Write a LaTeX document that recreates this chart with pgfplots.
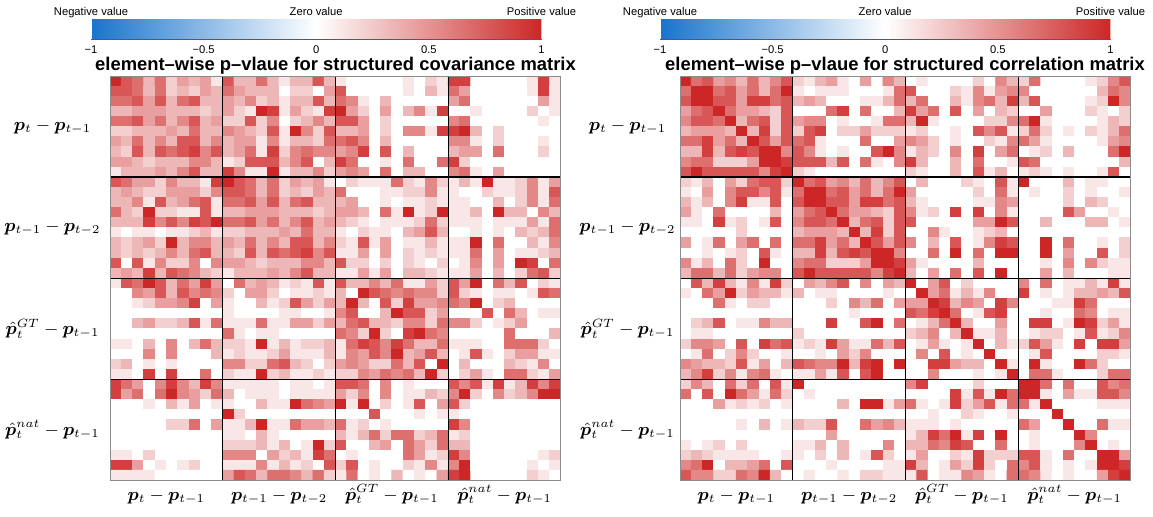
\documentclass[border=0pt]{standalone}
\usepackage{amsmath,bm}
\usepackage[no-math]{fontspec}
\setmainfont{Liberation Sans}
\usepackage{pgfplots}
\pgfplotsset{compat=1.18}

\pgfplotsset{
  heat/.style={
    scale only axis, width=225.5pt, height=202.25pt, anchor=south west,
    xmin=-0.5,xmax=39.5,ymin=-0.5,ymax=39.5, y dir=reverse, enlargelimits=false,
    axis on top, axis line style={draw=black!45, line width=0.5pt},
    major tick length=0pt,
    xtick={4.5,14.5,24.5,34.5}, ytick={4.5,14.5,24.5,34.5},
    xticklabels={{$\bm{p}_t-\bm{p}_{t-1}$},{$\bm{p}_{t-1}-\bm{p}_{t-2}$},{$\hat{\bm{p}}_t^{GT}-\bm{p}_{t-1}$},{$\hat{\bm{p}}_t^{nat}-\bm{p}_{t-1}$}},
    yticklabels={{$\bm{p}_t-\bm{p}_{t-1}$},{$\bm{p}_{t-1}-\bm{p}_{t-2}$},{$\hat{\bm{p}}_t^{GT}-\bm{p}_{t-1}$},{$\hat{\bm{p}}_t^{nat}-\bm{p}_{t-1}$}},
    xticklabel style={anchor=base, yshift=-9.9pt, font=\fontsize{9}{11}\selectfont},
    yticklabel style={anchor=center, font=\fontsize{9}{11}\selectfont},
    colormap={rb}{rgb255=(24,116,205) rgb255=(255,255,255) rgb255=(205,38,38)},
    point meta min=-1, point meta max=1,
    colorbar horizontal,
    colorbar style={
      at={(parent axis.north west)}, anchor=south west, yshift=27pt,
      scale only axis, width=225.25pt, height=10pt, y dir=normal,
      xtick={-1,-0.5,0,0.5,1}, xticklabels={{−1},{−0.5},{0},{0.5},{1}},
      ytick=\empty,
      major tick length=0pt, axis line style={draw=none},
      xticklabel style={anchor=base, yshift=-7pt, font=\fontsize{5.6}{6}\selectfont},
    },
  },
  cells/.style={matrix plot, shader=flat corner, mesh/cols=40, point meta=explicit},
}

\begin{document}
\begin{tikzpicture}
\path[use as bounding box] (0,0) rectangle (576.5pt,258pt);

\begin{axis}[heat, at={(55pt,17.75pt)}, yticklabel style={xshift=-28.75pt}, colorbar style={xshift=-9.5pt}]
\addplot[cells] table[header=false, row sep=\\, x expr={int(mod(\coordindex,40))}, y expr={int(floor((\coordindex+0.5)/40))}, meta expr={\thisrowno{0}/9}] {
9\\7\\6\\3\\6\\2\\4\\3\\4\\1\\ 7\\3\\3\\6\\3\\1\\3\\3\\7\\3\\ 1\\0\\0\\0\\0\\0\\1\\0\\2\\1\\ 8\\8\\0\\0\\0\\0\\0\\1\\8\\1\\
7\\7\\6\\3\\6\\2\\3\\2\\4\\3\\ 6\\4\\3\\3\\3\\0\\2\\2\\0\\4\\ 7\\0\\0\\0\\0\\0\\1\\0\\3\\1\\ 6\\4\\0\\0\\0\\0\\0\\1\\8\\1\\
6\\6\\7\\4\\7\\3\\6\\7\\3\\3\\ 4\\3\\5\\2\\3\\1\\3\\3\\7\\3\\ 6\\5\\1\\0\\3\\0\\0\\0\\0\\0\\ 4\\6\\0\\0\\0\\0\\0\\0\\4\\1\\
3\\3\\4\\4\\4\\3\\3\\3\\2\\3\\ 4\\2\\1\\9\\8\\1\\4\\2\\1\\8\\ 9\\4\\2\\0\\4\\0\\3\\5\\1\\8\\ 0\\0\\1\\0\\0\\0\\0\\2\\0\\1\\
6\\6\\7\\4\\6\\3\\5\\7\\3\\4\\ 2\\2\\7\\2\\5\\0\\2\\3\\5\\3\\ 7\\7\\4\\0\\2\\0\\0\\0\\0\\0\\ 5\\6\\0\\0\\0\\0\\0\\0\\1\\0\\
2\\2\\3\\3\\3\\4\\3\\6\\3\\3\\ 5\\4\\3\\2\\7\\1\\9\\5\\2\\7\\ 3\\3\\4\\0\\2\\0\\5\\5\\1\\8\\ 8\\9\\3\\0\\2\\0\\0\\0\\0\\0\\
4\\3\\6\\3\\5\\3\\7\\7\\3\\5\\ 3\\4\\4\\1\\5\\1\\3\\3\\2\\6\\ 6\\7\\5\\0\\3\\0\\0\\0\\0\\0\\ 5\\5\\1\\0\\2\\0\\0\\0\\1\\0\\
3\\2\\7\\3\\7\\6\\7\\8\\5\\7\\ 3\\4\\6\\1\\8\\2\\5\\6\\5\\5\\ 4\\5\\8\\0\\7\\0\\3\\0\\0\\0\\ 3\\4\\4\\0\\6\\0\\0\\0\\2\\0\\
4\\4\\3\\2\\3\\3\\3\\5\\5\\3\\ 1\\2\\7\\7\\7\\3\\5\\7\\0\\3\\ 8\\6\\0\\0\\1\\0\\6\\0\\0\\6\\ 8\\2\\0\\0\\0\\0\\0\\0\\0\\0\\
1\\3\\3\\3\\4\\3\\5\\7\\3\\3\\ 8\\5\\1\\1\\9\\1\\3\\3\\5\\2\\ 4\\5\\4\\0\\6\\0\\3\\3\\0\\0\\ 5\\6\\1\\0\\4\\0\\0\\0\\0\\0\\
7\\6\\4\\4\\2\\5\\3\\3\\1\\8\\ 9\\7\\6\\3\\6\\2\\4\\3\\4\\1\\ 0\\2\\1\\1\\1\\6\\2\\1\\5\\2\\ 1\\3\\1\\9\\1\\1\\2\\5\\1\\4\\
3\\4\\3\\2\\2\\4\\4\\4\\2\\5\\ 7\\7\\6\\3\\6\\2\\3\\2\\4\\3\\ 6\\0\\0\\0\\1\\1\\2\\2\\5\\1\\ 1\\0\\0\\2\\1\\1\\2\\5\\1\\7\\
3\\3\\5\\1\\7\\3\\4\\6\\7\\1\\ 6\\6\\7\\4\\7\\3\\6\\7\\3\\3\\ 3\\4\\0\\0\\1\\0\\1\\1\\2\\1\\ 1\\1\\0\\0\\3\\0\\2\\5\\1\\6\\
6\\3\\2\\9\\2\\2\\1\\1\\7\\1\\ 3\\3\\4\\4\\4\\3\\3\\3\\2\\3\\ 4\\4\\3\\0\\6\\1\\9\\1\\2\\9\\ 1\\1\\3\\0\\9\\3\\3\\0\\5\\3\\
3\\3\\3\\8\\5\\7\\5\\8\\7\\9\\ 6\\6\\7\\4\\6\\3\\5\\7\\3\\4\\ 3\\2\\1\\0\\1\\1\\1\\2\\6\\2\\ 1\\1\\1\\0\\1\\1\\1\\4\\1\\6\\
1\\0\\1\\1\\0\\1\\1\\2\\3\\1\\ 2\\2\\3\\3\\3\\4\\3\\6\\3\\3\\ 1\\0\\2\\1\\1\\0\\3\\4\\7\\3\\ 0\\0\\1\\0\\1\\0\\3\\2\\3\\6\\
3\\2\\3\\4\\2\\9\\3\\5\\5\\3\\ 4\\3\\6\\3\\5\\3\\7\\7\\3\\5\\ 2\\1\\7\\1\\4\\0\\1\\1\\3\\1\\ 1\\1\\9\\0\\6\\0\\0\\3\\1\\5\\
3\\2\\3\\2\\3\\5\\3\\6\\7\\3\\ 3\\2\\7\\3\\7\\6\\7\\8\\5\\7\\ 1\\1\\4\\0\\4\\0\\2\\1\\2\\1\\ 1\\1\\6\\0\\4\\0\\1\\1\\2\\3\\
7\\0\\7\\1\\5\\2\\2\\5\\0\\5\\ 4\\4\\3\\2\\3\\3\\3\\5\\5\\3\\ 7\\2\\2\\0\\2\\0\\2\\1\\0\\2\\ 0\\1\\5\\0\\4\\0\\9\\8\\0\\6\\
3\\4\\3\\8\\3\\7\\6\\5\\3\\2\\ 1\\3\\3\\3\\4\\3\\5\\7\\3\\3\\ 1\\1\\4\\1\\4\\0\\3\\3\\2\\1\\ 1\\1\\4\\0\\3\\0\\2\\6\\7\\2\\
1\\7\\6\\9\\7\\3\\6\\4\\8\\4\\ 0\\6\\3\\4\\3\\1\\2\\1\\7\\1\\ 7\\3\\3\\5\\3\\6\\1\\1\\4\\2\\ 7\\4\\9\\0\\6\\3\\7\\0\\2\\1\\
0\\0\\5\\4\\7\\3\\7\\5\\6\\5\\ 2\\0\\4\\4\\2\\0\\1\\1\\2\\1\\ 3\\0\\9\\7\\6\\5\\6\\5\\5\\2\\ 7\\2\\1\\0\\1\\1\\0\\1\\7\\6\\
0\\0\\1\\2\\4\\4\\5\\8\\0\\4\\ 1\\0\\0\\3\\1\\2\\7\\4\\2\\4\\ 3\\9\\3\\0\\7\\2\\8\\4\\4\\5\\ 6\\5\\9\\0\\2\\3\\0\\0\\0\\0\\
0\\0\\0\\0\\0\\0\\0\\0\\0\\0\\ 1\\0\\0\\0\\0\\1\\1\\0\\0\\1\\ 5\\7\\0\\0\\3\\9\\7\\7\\2\\4\\ 0\\0\\0\\7\\0\\6\\3\\0\\1\\1\\
0\\0\\3\\4\\2\\2\\3\\7\\1\\6\\ 1\\1\\1\\6\\1\\1\\4\\4\\2\\4\\ 3\\6\\7\\3\\3\\2\\5\\5\\2\\6\\ 5\\5\\2\\0\\1\\2\\4\\0\\0\\0\\
0\\0\\0\\0\\0\\0\\0\\0\\0\\0\\ 6\\1\\0\\1\\1\\0\\0\\0\\0\\0\\ 6\\5\\2\\9\\2\\0\\8\\9\\6\\5\\ 0\\0\\0\\0\\0\\6\\0\\0\\0\\3\\
1\\1\\0\\3\\0\\5\\0\\3\\6\\3\\ 2\\2\\1\\9\\1\\3\\1\\2\\2\\3\\ 1\\6\\8\\7\\5\\8\\6\\3\\3\\6\\ 1\\1\\1\\0\\0\\6\\6\\6\\2\\0\\
0\\0\\0\\5\\0\\5\\0\\0\\0\\3\\ 1\\2\\1\\1\\2\\4\\1\\1\\1\\3\\ 1\\5\\4\\7\\5\\9\\3\\4\\7\\3\\ 0\\1\\7\\1\\0\\2\\4\\4\\1\\1\\
2\\3\\0\\1\\0\\1\\0\\0\\0\\0\\ 5\\5\\2\\2\\6\\7\\3\\2\\0\\2\\ 4\\5\\4\\2\\2\\6\\3\\7\\0\\9\\ 0\\3\\0\\0\\0\\3\\2\\1\\5\\0\\
1\\1\\0\\8\\0\\8\\0\\0\\6\\0\\ 2\\1\\1\\9\\2\\3\\1\\1\\2\\1\\ 2\\2\\5\\4\\6\\5\\6\\3\\9\\2\\ 0\\2\\4\\1\\0\\6\\6\\2\\1\\4\\
8\\6\\4\\0\\5\\8\\5\\3\\8\\5\\ 1\\1\\1\\1\\1\\0\\1\\1\\0\\1\\ 7\\7\\6\\0\\5\\0\\1\\0\\0\\0\\ 7\\5\\7\\1\\8\\1\\3\\8\\5\\8\\
8\\4\\6\\0\\6\\9\\5\\4\\2\\6\\ 3\\0\\1\\1\\1\\0\\1\\1\\1\\1\\ 4\\2\\5\\0\\5\\0\\1\\1\\3\\2\\ 5\\9\\2\\0\\5\\2\\3\\5\\9\\9\\
0\\0\\0\\1\\0\\3\\1\\4\\0\\1\\ 1\\0\\0\\3\\1\\1\\9\\6\\5\\4\\ 9\\1\\9\\0\\2\\0\\1\\7\\0\\4\\ 7\\2\\0\\0\\0\\0\\0\\0\\0\\0\\
0\\0\\0\\0\\0\\0\\0\\0\\0\\0\\ 9\\2\\0\\0\\0\\0\\0\\0\\0\\0\\ 0\\0\\0\\7\\0\\0\\0\\1\\0\\1\\ 1\\0\\0\\0\\0\\0\\0\\0\\0\\0\\
0\\0\\0\\0\\0\\2\\2\\6\\0\\4\\ 1\\1\\3\\9\\1\\1\\6\\4\\4\\3\\ 6\\1\\2\\0\\1\\0\\0\\0\\0\\0\\ 8\\5\\0\\0\\0\\0\\0\\0\\0\\0\\
0\\0\\0\\0\\0\\0\\0\\0\\0\\0\\ 1\\1\\0\\3\\1\\0\\0\\0\\0\\0\\ 3\\1\\3\\6\\2\\6\\6\\2\\3\\6\\ 1\\2\\0\\0\\0\\0\\0\\0\\0\\0\\
0\\0\\0\\0\\0\\0\\0\\0\\0\\0\\ 2\\2\\2\\3\\1\\3\\0\\1\\9\\2\\ 7\\0\\0\\3\\4\\0\\6\\4\\2\\6\\ 3\\3\\0\\0\\0\\0\\0\\0\\0\\0\\
1\\1\\0\\2\\0\\0\\0\\0\\0\\0\\ 5\\5\\5\\0\\4\\2\\3\\1\\8\\6\\ 0\\1\\0\\0\\0\\0\\6\\4\\1\\2\\ 8\\5\\0\\0\\0\\0\\0\\0\\1\\2\\
8\\8\\4\\0\\1\\0\\1\\2\\0\\0\\ 1\\1\\1\\5\\1\\3\\1\\2\\0\\7\\ 2\\7\\0\\1\\0\\0\\2\\1\\5\\1\\ 5\\9\\0\\0\\0\\0\\0\\1\\0\\1\\
1\\1\\1\\1\\0\\0\\0\\0\\0\\0\\ 4\\7\\6\\3\\6\\6\\5\\3\\6\\2\\ 1\\6\\0\\1\\0\\3\\0\\1\\0\\4\\ 8\\9\\0\\0\\0\\0\\0\\2\\1\\0\\
};
\pgfplotsinvokeforeach{9.5,19.5,29.5}{
  \draw[black, line width=0.7pt] (axis cs:#1,-0.5) -- (axis cs:#1,39.5);
  \draw[black, line width=0.7pt] (axis cs:-0.5,#1) -- (axis cs:39.5,#1);
}
\end{axis}

\begin{axis}[heat, at={(340pt,17.75pt)}, yticklabel style={xshift=-26.25pt}, colorbar style={xshift=-10pt}]
\addplot[cells] table[header=false, row sep=\\, x expr={int(mod(\coordindex,40))}, y expr={int(floor((\coordindex+0.5)/40))}, meta expr={\thisrowno{0}/9}] {
9\\6\\7\\4\\5\\3\\6\\3\\5\\7\\ 2\\1\\3\\4\\1\\0\\4\\0\\5\\3\\ 0\\1\\0\\0\\0\\0\\2\\0\\5\\3\\ 2\\6\\0\\0\\0\\0\\1\\2\\5\\7\\
6\\9\\9\\6\\7\\4\\6\\3\\6\\9\\ 1\\0\\1\\1\\1\\0\\0\\0\\1\\6\\ 7\\0\\0\\0\\2\\1\\5\\1\\4\\5\\ 5\\0\\0\\0\\0\\0\\0\\3\\6\\5\\
7\\9\\9\\7\\7\\4\\8\\8\\6\\7\\ 3\\4\\3\\0\\0\\0\\1\\1\\3\\6\\ 3\\6\\0\\0\\3\\1\\5\\6\\3\\8\\ 3\\7\\0\\0\\0\\0\\1\\2\\9\\5\\
4\\6\\7\\9\\6\\4\\4\\3\\2\\7\\ 0\\0\\0\\6\\8\\0\\6\\0\\0\\3\\ 8\\4\\6\\0\\7\\0\\4\\0\\3\\2\\ 0\\0\\4\\0\\0\\0\\2\\1\\0\\2\\
5\\7\\7\\6\\9\\3\\6\\7\\2\\7\\ 4\\5\\5\\0\\1\\0\\0\\1\\6\\6\\ 3\\9\\1\\0\\0\\0\\0\\2\\2\\5\\ 6\\9\\1\\0\\0\\0\\0\\1\\3\\2\\
3\\4\\4\\4\\3\\9\\3\\8\\2\\7\\ 2\\7\\8\\0\\2\\2\\4\\2\\2\\2\\ 1\\2\\0\\0\\1\\0\\7\\5\\7\\1\\ 2\\6\\2\\0\\1\\0\\2\\1\\3\\6\\
6\\6\\8\\4\\6\\3\\9\\7\\4\\7\\ 6\\7\\1\\0\\0\\0\\6\\0\\0\\4\\ 5\\4\\2\\0\\1\\0\\0\\2\\1\\5\\ 6\\4\\1\\0\\0\\0\\0\\1\\4\\5\\
3\\3\\8\\3\\7\\8\\7\\9\\9\\5\\ 7\\5\\1\\0\\1\\0\\0\\7\\9\\5\\ 1\\3\\2\\0\\5\\0\\8\\0\\4\\6\\ 0\\1\\2\\0\\3\\0\\0\\0\\6\\9\\
5\\6\\6\\2\\2\\2\\4\\9\\9\\8\\ 7\\7\\7\\3\\7\\0\\6\\1\\0\\5\\ 8\\3\\0\\0\\3\\0\\6\\0\\0\\1\\ 7\\6\\0\\0\\0\\0\\0\\0\\0\\3\\
7\\9\\7\\7\\7\\7\\7\\5\\8\\9\\ 2\\1\\0\\0\\0\\0\\0\\0\\0\\0\\ 2\\1\\0\\0\\3\\0\\7\\1\\3\\0\\ 1\\2\\1\\0\\1\\0\\0\\1\\7\\0\\
2\\1\\3\\0\\4\\2\\6\\7\\7\\2\\ 9\\6\\7\\4\\5\\3\\6\\3\\5\\7\\ 0\\3\\0\\0\\0\\2\\1\\0\\7\\1\\ 9\\0\\0\\0\\3\\0\\1\\1\\0\\0\\
1\\0\\4\\0\\5\\7\\7\\5\\7\\1\\ 6\\9\\9\\6\\7\\4\\6\\3\\6\\9\\ 4\\0\\0\\0\\0\\0\\2\\0\\6\\1\\ 0\\1\\0\\0\\2\\0\\1\\0\\0\\1\\
3\\1\\3\\0\\5\\8\\1\\1\\7\\0\\ 7\\9\\9\\7\\7\\4\\8\\8\\6\\7\\ 3\\1\\0\\0\\0\\0\\1\\1\\5\\4\\ 0\\0\\0\\0\\2\\0\\3\\2\\0\\0\\
4\\1\\0\\6\\0\\0\\0\\0\\3\\0\\ 4\\6\\7\\9\\6\\4\\4\\3\\2\\7\\ 5\\1\\2\\0\\8\\0\\8\\0\\5\\1\\ 0\\0\\0\\0\\7\\4\\0\\0\\1\\0\\
1\\1\\0\\8\\1\\2\\0\\1\\7\\0\\ 5\\7\\7\\6\\9\\3\\6\\7\\2\\7\\ 7\\0\\0\\0\\0\\0\\4\\4\\9\\7\\ 0\\0\\3\\0\\0\\0\\3\\3\\0\\1\\
0\\0\\0\\0\\0\\2\\0\\0\\0\\0\\ 3\\4\\4\\4\\3\\9\\3\\8\\2\\7\\ 0\\0\\5\\1\\0\\0\\1\\2\\3\\0\\ 0\\0\\0\\0\\0\\0\\0\\0\\0\\0\\
4\\0\\1\\6\\0\\4\\6\\0\\6\\0\\ 6\\6\\8\\4\\6\\3\\9\\7\\4\\7\\ 5\\0\\3\\0\\7\\0\\1\\5\\8\\7\\ 0\\0\\9\\0\\6\\0\\0\\1\\0\\2\\
0\\0\\1\\0\\1\\2\\0\\7\\1\\0\\ 3\\3\\8\\3\\7\\8\\7\\9\\9\\5\\ 0\\0\\6\\0\\9\\0\\6\\0\\9\\9\\ 0\\0\\9\\0\\4\\0\\0\\7\\0\\2\\
5\\1\\3\\0\\6\\2\\0\\9\\0\\0\\ 5\\6\\6\\2\\2\\2\\4\\9\\9\\8\\ 4\\1\\0\\0\\0\\0\\3\\0\\0\\0\\ 0\\0\\1\\0\\5\\0\\5\\2\\1\\1\\
3\\6\\6\\3\\6\\2\\4\\5\\5\\0\\ 7\\9\\7\\7\\7\\7\\7\\5\\8\\9\\ 3\\0\\4\\0\\6\\0\\7\\0\\9\\0\\ 0\\0\\4\\0\\3\\0\\0\\0\\1\\1\\
0\\7\\3\\8\\3\\1\\5\\1\\8\\2\\ 0\\4\\3\\5\\7\\0\\5\\0\\4\\3\\ 9\\0\\4\\7\\0\\2\\0\\0\\0\\0\\ 5\\0\\6\\0\\1\\1\\3\\1\\8\\1\\
1\\0\\6\\4\\9\\2\\4\\3\\3\\1\\ 3\\0\\1\\1\\0\\0\\0\\0\\1\\0\\ 0\\9\\4\\6\\1\\3\\1\\5\\0\\0\\ 8\\0\\1\\0\\1\\3\\3\\4\\3\\7\\
0\\0\\0\\6\\1\\0\\2\\2\\0\\0\\ 0\\0\\0\\2\\0\\5\\3\\6\\0\\4\\ 4\\4\\9\\8\\3\\5\\4\\0\\8\\5\\ 0\\0\\0\\1\\1\\8\\6\\0\\0\\0\\
0\\0\\0\\0\\0\\0\\0\\0\\0\\0\\ 0\\0\\0\\0\\0\\1\\0\\0\\0\\0\\ 7\\6\\8\\9\\6\\0\\1\\7\\8\\0\\ 0\\0\\1\\0\\0\\6\\5\\0\\1\\1\\
0\\2\\3\\7\\0\\1\\1\\5\\3\\3\\ 0\\0\\0\\8\\0\\0\\7\\9\\0\\6\\ 0\\1\\3\\6\\9\\3\\0\\0\\4\\0\\ 0\\8\\8\\0\\1\\9\\8\\2\\4\\1\\
0\\1\\1\\0\\0\\0\\0\\0\\0\\0\\ 2\\0\\0\\0\\0\\0\\0\\0\\0\\0\\ 2\\3\\5\\0\\3\\9\\1\\1\\3\\0\\ 0\\1\\2\\2\\0\\1\\7\\1\\2\\5\\
2\\5\\5\\4\\0\\7\\0\\8\\6\\7\\ 1\\2\\1\\8\\4\\1\\1\\6\\3\\7\\ 0\\1\\4\\1\\0\\1\\9\\0\\3\\1\\ 2\\7\\4\\1\\0\\8\\0\\8\\8\\4\\
0\\1\\6\\0\\2\\5\\2\\0\\0\\1\\ 0\\0\\1\\0\\4\\2\\5\\0\\0\\0\\ 0\\5\\0\\7\\0\\1\\0\\9\\0\\0\\ 0\\1\\7\\0\\0\\0\\0\\2\\2\\1\\
5\\4\\3\\3\\2\\7\\1\\4\\0\\3\\ 7\\6\\5\\5\\9\\3\\8\\9\\0\\9\\ 0\\0\\8\\8\\4\\3\\3\\0\\9\\1\\ 0\\9\\1\\0\\0\\9\\6\\2\\0\\0\\
3\\5\\8\\2\\5\\1\\5\\6\\1\\0\\ 1\\1\\4\\1\\7\\0\\7\\9\\0\\0\\ 0\\0\\5\\0\\0\\0\\1\\0\\1\\9\\ 0\\6\\6\\1\\0\\0\\0\\2\\6\\6\\
2\\5\\3\\0\\6\\2\\6\\0\\7\\1\\ 9\\0\\0\\0\\0\\0\\0\\0\\0\\0\\ 5\\8\\0\\0\\0\\0\\2\\0\\0\\0\\ 9\\9\\6\\0\\6\\0\\0\\7\\5\\6\\
6\\0\\7\\0\\9\\6\\4\\1\\6\\2\\ 0\\1\\0\\0\\0\\0\\0\\0\\0\\0\\ 0\\0\\0\\0\\8\\1\\7\\1\\9\\6\\ 9\\9\\1\\0\\4\\1\\1\\7\\7\\5\\
0\\0\\0\\4\\1\\2\\1\\2\\0\\1\\ 0\\0\\0\\0\\3\\0\\9\\9\\1\\4\\ 6\\1\\0\\1\\8\\2\\4\\7\\1\\6\\ 6\\1\\9\\0\\0\\0\\0\\1\\1\\1\\
0\\0\\0\\0\\0\\0\\0\\0\\0\\0\\ 0\\0\\0\\0\\0\\0\\0\\0\\0\\0\\ 0\\0\\1\\0\\0\\2\\1\\0\\0\\1\\ 0\\0\\0\\9\\0\\0\\0\\0\\0\\0\\
0\\0\\0\\0\\0\\1\\0\\3\\0\\1\\ 3\\2\\2\\7\\0\\0\\6\\4\\5\\3\\ 1\\1\\1\\0\\1\\0\\0\\0\\0\\0\\ 6\\4\\0\\0\\9\\0\\0\\6\\1\\1\\
0\\0\\0\\0\\0\\0\\0\\0\\0\\0\\ 0\\0\\0\\4\\0\\0\\0\\0\\0\\0\\ 1\\3\\8\\6\\9\\1\\8\\0\\9\\0\\ 0\\1\\0\\0\\0\\9\\5\\0\\0\\0\\
1\\0\\1\\2\\0\\2\\0\\0\\0\\0\\ 1\\1\\3\\0\\3\\0\\0\\0\\5\\0\\ 3\\3\\6\\5\\8\\7\\0\\0\\6\\0\\ 0\\1\\0\\0\\0\\5\\9\\0\\1\\0\\
2\\3\\2\\1\\1\\1\\1\\0\\0\\1\\ 1\\0\\2\\0\\3\\0\\1\\7\\2\\0\\ 1\\4\\0\\0\\2\\1\\8\\2\\2\\2\\ 7\\7\\1\\0\\6\\0\\0\\9\\9\\4\\
5\\6\\9\\0\\3\\3\\4\\6\\0\\7\\ 0\\0\\0\\1\\0\\0\\0\\0\\1\\1\\ 8\\3\\0\\1\\4\\2\\8\\2\\0\\6\\ 5\\7\\1\\0\\1\\0\\1\\9\\9\\8\\
7\\5\\5\\2\\2\\6\\5\\9\\3\\0\\ 0\\1\\0\\0\\1\\0\\2\\2\\1\\1\\ 1\\7\\0\\1\\1\\5\\4\\1\\0\\6\\ 6\\5\\1\\0\\1\\0\\0\\4\\8\\9\\
};
\pgfplotsinvokeforeach{9.5,19.5,29.5}{
  \draw[black, line width=0.7pt] (axis cs:#1,-0.5) -- (axis cs:#1,39.5);
  \draw[black, line width=0.7pt] (axis cs:-0.5,#1) -- (axis cs:39.5,#1);
}
\end{axis}

% colorbar bottom edges
\draw[black!65, line width=0.5pt] (45.5pt,238.5pt) -- (270.75pt,238.5pt);
\draw[black!65, line width=0.5pt] (330pt,238.5pt) -- (555.25pt,238.5pt);

% colorbar captions
\begin{scope}[every node/.style={anchor=base, inner sep=0pt, font=\fontsize{5.6}{6}\selectfont}]
\node at (45.5pt,250.15pt) {Negative value};
\node at (158.1pt,250.15pt) {Zero value};
\node at (270.75pt,250.15pt) {Positive value};
\node at (330pt,250.15pt) {Negative value};
\node at (442.6pt,250.15pt) {Zero value};
\node at (555.25pt,250.15pt) {Positive value};
\end{scope}

% titles
\node[anchor=base, inner sep=0pt, font=\fontsize{9.2}{11}\selectfont\bfseries] at (167.75pt,222.65pt) {element\textendash wise p\textendash vlaue for structured covariance matrix};
\node[anchor=base, inner sep=0pt, font=\fontsize{9.2}{11}\selectfont\bfseries] at (452.5pt,222.65pt) {element\textendash wise p\textendash vlaue for structured correlation matrix};
\end{tikzpicture}
\end{document}
